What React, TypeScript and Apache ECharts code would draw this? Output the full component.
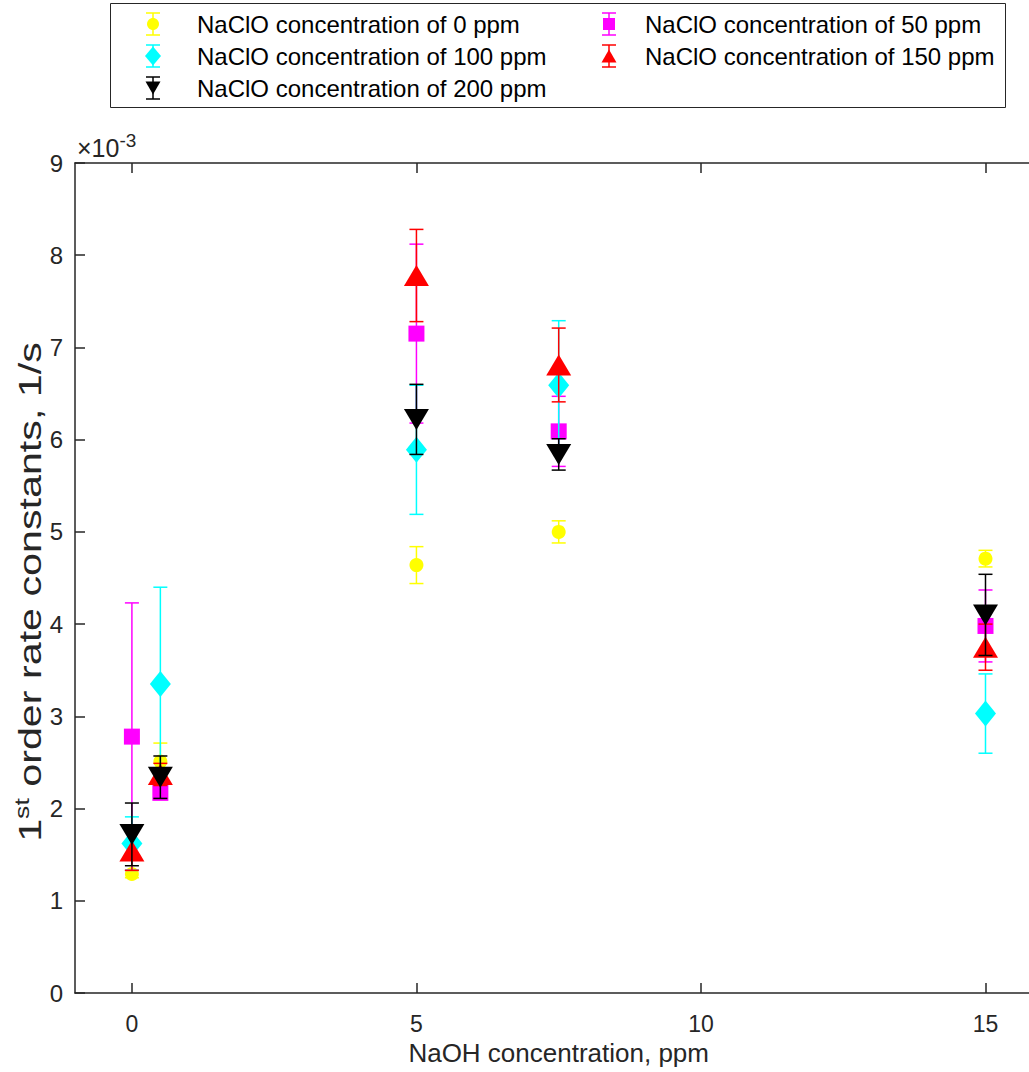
import React, { useEffect, useRef } from "react";
import * as echarts from "echarts";

// ---- data (y values in units of 1e-3 1/s) ----
const naohConc = [0, 0.5, 5, 7.5, 15];
const seriesNames = [
  "NaClO concentration of 0 ppm",
  "NaClO concentration of 50 ppm",
  "NaClO concentration of 100 ppm",
  "NaClO concentration of 150 ppm",
  "NaClO concentration of 200 ppm",
];
const mean0 = [1.29, 2.51, 4.64, 5.0, 4.71];
const err0 = [0.04, 0.2, 0.2, 0.12, 0.09];
const mean50 = [2.78, 2.17, 7.15, 6.09, 3.98];
const err50 = [1.45, 0.05, 0.97, 0.38, 0.39];
const mean100 = [1.62, 3.35, 5.89, 6.59, 3.03];
const err100 = [0.29, 1.05, 0.7, 0.7, 0.43];
const mean150 = [1.54, 2.37, 7.78, 6.81, 3.75];
const err150 = [0.21, 0.12, 0.5, 0.4, 0.25];
const mean200 = [1.72, 2.34, 6.22, 5.84, 4.1];
const err200 = [0.34, 0.23, 0.38, 0.17, 0.44];
const xTicks = [0, 5, 10, 15];

const means = [mean0, mean50, mean100, mean150, mean200];
const errs = [err0, err50, err100, err150, err200];
const colors = ["#FFFF00", "#FF00FF", "#00FFFF", "#FF0000", "#000000"];
const symbols = ["circle", "rect", "diamond", "triangle", "triangle"];
const symbolSizes: any[] = [14, 16, [21, 26], [25, 21], [25, 21]];
const symbolRotates = [0, 0, 0, 0, 180];
const legendSizes: any[] = [12, 12, [16, 19], [15, 13], [15, 13]];

const FONT = "'Liberation Sans', Arial, Helvetica, sans-serif";
const AX = "#262626";

export default function App() {
  const ref = useRef<HTMLDivElement>(null);
  useEffect(() => {
    if (!ref.current) return;
    const chart = echarts.init(ref.current, null, { renderer: "svg" });
    const series: any[] = [];
    means.forEach((m, i) => {
      const color = colors[i];
      series.push({
        type: "custom",
        name: seriesNames[i] + " err",
        xAxisIndex: 0,
        yAxisIndex: 0,
        z: 2 + i * 2,
        data: m.map((v, j) => [naohConc[j], v - errs[i][j], v + errs[i][j]]),
        encode: { x: 0, y: [1, 2] },
        renderItem: (params: any, api: any) => {
          const x = api.value(0);
          const pt = api.coord([x, api.value(2)]);
          const pb = api.coord([x, api.value(1)]);
          const hw = 7;
          const st = { stroke: color, lineWidth: 1.5 };
          return {
            type: "group",
            children: [
              { type: "line", shape: { x1: pt[0], y1: pt[1], x2: pb[0], y2: pb[1] }, style: st },
              { type: "line", shape: { x1: pt[0] - hw, y1: pt[1], x2: pt[0] + hw, y2: pt[1] }, style: st },
              { type: "line", shape: { x1: pb[0] - hw, y1: pb[1], x2: pb[0] + hw, y2: pb[1] }, style: st },
            ],
          };
        },
      });
      series.push({
        type: "scatter",
        name: seriesNames[i],
        xAxisIndex: 0,
        yAxisIndex: 0,
        z: 3 + i * 2,
        symbol: symbols[i],
        symbolSize: symbolSizes[i],
        symbolRotate: symbolRotates[i],
        itemStyle: { color, opacity: 1 },
        data: m.map((v, j) => [naohConc[j], v]),
      });
    });

    // legend drawn as graphic (MATLAB-style errorbar icons)
    const legendPos = [
      [153, 197, 24],
      [609, 645, 24],
      [153, 197, 56],
      [609, 645, 56],
      [153, 197, 88],
    ];
    const legendChildren: any[] = [
      {
        type: "rect",
        shape: { x: 110.5, y: 3.5, width: 895, height: 104 },
        style: { fill: "#fff", stroke: AX, lineWidth: 1 },
      },
    ];
    seriesNames.forEach((name, i) => {
      const [ix, tx, cy] = legendPos[i];
      const st = { stroke: colors[i], lineWidth: 1.5 };
      legendChildren.push(
        { type: "line", shape: { x1: ix, y1: cy - 11, x2: ix, y2: cy + 11 }, style: st },
        { type: "line", shape: { x1: ix - 7, y1: cy - 11, x2: ix + 7, y2: cy - 11 }, style: st },
        { type: "line", shape: { x1: ix - 7, y1: cy + 11, x2: ix + 7, y2: cy + 11 }, style: st }
      );
      const s = legendSizes[i];
      const w = Array.isArray(s) ? s[0] : s;
      const h = Array.isArray(s) ? s[1] : s;
      const fill = { fill: colors[i] };
      if (symbols[i] === "circle") {
        legendChildren.push({ type: "ellipse", shape: { cx: ix, cy, rx: w / 2, ry: h / 2 }, style: fill });
      } else if (symbols[i] === "rect") {
        legendChildren.push({ type: "rect", shape: { x: ix - w / 2, y: cy - h / 2, width: w, height: h }, style: fill });
      } else if (symbols[i] === "diamond") {
        legendChildren.push({
          type: "polygon",
          shape: { points: [[ix, cy - h / 2], [ix + w / 2, cy], [ix, cy + h / 2], [ix - w / 2, cy]] },
          style: fill,
        });
      } else if (symbolRotates[i] === 180) {
        legendChildren.push({
          type: "polygon",
          shape: { points: [[ix - w / 2, cy - h / 2], [ix + w / 2, cy - h / 2], [ix, cy + h / 2]] },
          style: fill,
        });
      } else {
        legendChildren.push({
          type: "polygon",
          shape: { points: [[ix - w / 2, cy + h / 2], [ix + w / 2, cy + h / 2], [ix, cy - h / 2]] },
          style: fill,
        });
      }
      legendChildren.push({
        type: "text",
        x: tx,
        y: cy,
        style: { text: name, fontSize: 24, fontFamily: FONT, fill: "#000", verticalAlign: "middle", align: "left" },
      });
    });

    chart.setOption({
      animation: false,
      backgroundColor: "#fff",
      textStyle: { fontFamily: FONT },
      grid: { left: 75, top: 163, right: 17.6, bottom: 79, show: false, containLabel: false, outerBoundsMode: "none" },
      xAxis: [
        {
          type: "value",
          min: -1,
          max: 16,
          axisLine: { show: true, onZero: false, lineStyle: { color: AX, width: 1.5 } },
          axisTick: { show: true, inside: true, length: 10, customValues: xTicks, lineStyle: { color: AX, width: 1.5 } },
          axisLabel: { show: true, customValues: xTicks, fontSize: 23, color: AX, margin: 19, fontFamily: FONT },
          splitLine: { show: false },
          name: "NaOH concentration, ppm",
          nameLocation: "middle",
          nameGap: 47,
          nameMoveOverlap: false,
          nameTextStyle: { fontSize: 26, color: AX, fontFamily: FONT },
        },
        {
          type: "value",
          position: "top",
          min: -1,
          max: 16,
          axisLine: { show: true, onZero: false, lineStyle: { color: AX, width: 1.5 } },
          axisTick: { show: true, inside: true, length: 10, customValues: xTicks, lineStyle: { color: AX, width: 1.5 } },
          axisLabel: { show: false },
          splitLine: { show: false },
        },
      ],
      yAxis: [
        {
          type: "value",
          min: 0,
          max: 9,
          interval: 1,
          axisLine: { show: true, onZero: false, lineStyle: { color: AX, width: 1.5 } },
          axisTick: { show: true, inside: true, length: 10, lineStyle: { color: AX, width: 1.5 } },
          axisLabel: { fontSize: 24, color: AX, margin: 12, fontFamily: FONT },
          splitLine: { show: false },
        },
      ],
      graphic: [
        {
          type: "text",
          x: 30,
          y: 592,
          rotation: Math.PI / 2,
          scaleX: 1.33,
          style: {
            text: "{a|1}{b|st}{a| order rate constants, 1/s}",
            fill: AX,
            align: "center",
            verticalAlign: "middle",
            rich: {
              a: { fontSize: 31, fill: AX, fontFamily: FONT },
              b: { fontSize: 20, fill: AX, fontFamily: FONT, padding: [0, 0, 16, 0] },
            },
          },
        },
        {
          type: "text",
          left: 77,
          top: 131,
          style: {
            text: "{a|×10}{b|-3}",
            fill: AX,
            rich: {
              a: { fontSize: 25, fill: AX, fontFamily: FONT },
              b: { fontSize: 19, fill: AX, fontFamily: FONT, padding: [0, 0, 15, 0] },
            },
          },
        },
        { type: "group", children: legendChildren, z: 100 },
      ],
      series,
    });
    return () => chart.dispose();
  }, []);
  return (
    <div style={{ position: "absolute", left: 0, top: 0, width: 1029, height: 1072, overflow: "hidden", background: "#fff" }}>
      <div ref={ref} style={{ width: 1060, height: 1072 }} />
    </div>
  );
}
